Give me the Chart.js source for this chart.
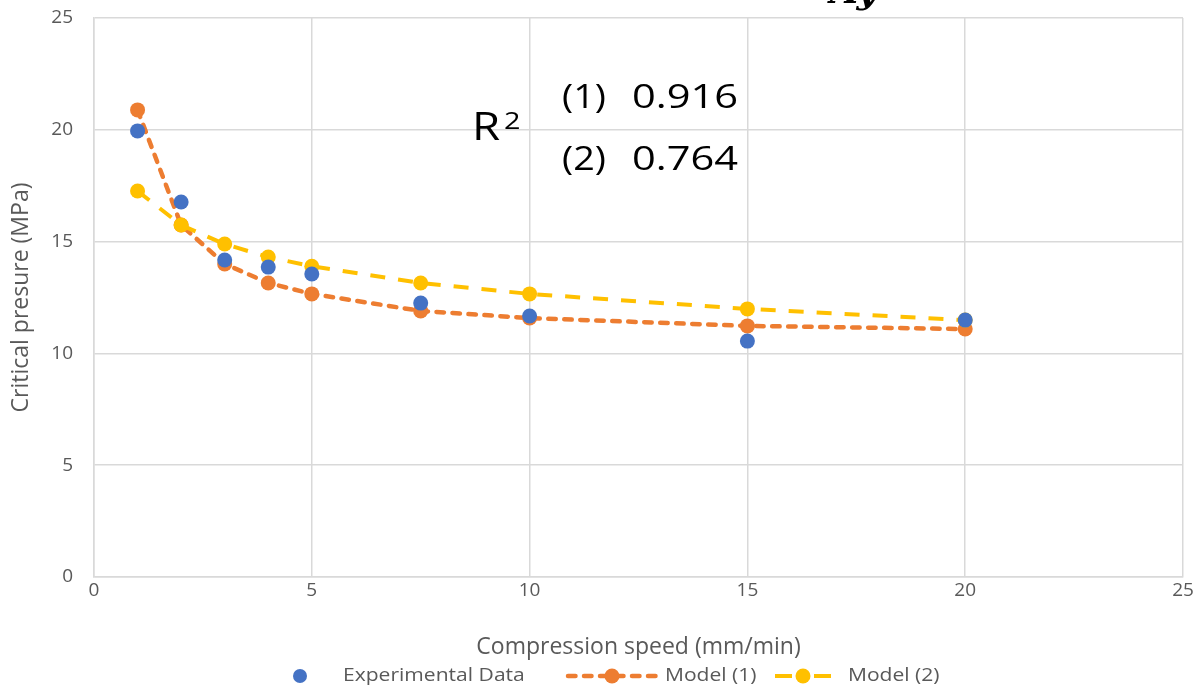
<!DOCTYPE html>
<html>
<head>
<meta charset="utf-8">
<script src="https://cdn.jsdelivr.net/npm/chart.js@4/dist/chart.umd.min.js"></script>
<style>
  html, body { margin: 0; padding: 0; background: #ffffff; }
  #wrap { width: 1194px; height: 688px; position: relative; }
</style>
</head>
<body>
<div id="wrap"><canvas id="c" width="1194" height="688"></canvas></div>
<script>
// ---- data ----
const speeds = [1, 2, 3, 4, 5, 7.5, 10, 15, 20];
const experimental = [19.95, 16.77, 14.18, 13.86, 13.55, 12.25, 11.67, 10.55, 11.49];
const model1 = [20.89, 15.74, 14.0, 13.15, 12.66, 11.9, 11.58, 11.23, 11.09];
const model2 = [17.26, 15.74, 14.89, 14.31, 13.9, 13.15, 12.66, 11.99, 11.49];
const xTicks = [0, 5, 10, 15, 20, 25];
const yTicks = [0, 5, 10, 15, 20, 25];
const seriesNames = ['Experimental Data', 'Model (1)', 'Model (2)'];
const r2Labels = ['(1)', '(2)'];
const r2Values = ['0.916', '0.764'];

const BLUE = '#4472C4', ORANGE = '#ED7D31', YELLOW = '#FFC000';
const TXT = '#595959';
const GRID = '#d9d9d9';
const FONT = "'Open Sans', 'Liberation Sans', sans-serif";

const pts = (ys) => speeds.map((x, i) => ({ x: x, y: ys[i] }));

function stretchedText(ctx, text, x, y, sx) {
  ctx.save();
  ctx.translate(x, y);
  ctx.scale(sx, 1);
  ctx.fillText(text, 0, 0);
  ctx.restore();
}

const annotPlugin = {
  id: 'annot',
  afterDraw(chart) {
    const ctx = chart.ctx;
    ctx.save();
    // partial formula text at top (clipped by canvas edge)
    ctx.fillStyle = '#000';
    ctx.font = "bold italic 36px 'DejaVu Serif', serif";
    ctx.textBaseline = 'alphabetic';
    ctx.fillText('Ay', 830, 3);

    ctx.fillStyle = '#000';
    ctx.font = "38px " + FONT;
    stretchedText(ctx, 'R', 472, 140, 1.2);
    ctx.font = "24px " + FONT;
    stretchedText(ctx, '2', 504, 129, 1.2);
    ctx.font = "32px " + FONT;
    stretchedText(ctx, r2Labels[0], 562, 108, 1.18);
    stretchedText(ctx, r2Values[0], 632, 108, 1.3);
    stretchedText(ctx, r2Labels[1], 562, 170, 1.18);
    stretchedText(ctx, r2Values[1], 632, 170, 1.3);

    // legend
    const ly = 676;
    const sx = 1.17;
    ctx.font = "18px " + FONT;
    ctx.textBaseline = 'middle';
    // experimental
    ctx.beginPath(); ctx.fillStyle = BLUE; ctx.arc(300, ly, 7, 0, Math.PI * 2); ctx.fill();
    ctx.fillStyle = TXT; stretchedText(ctx, seriesNames[0], 343, ly, sx);
    // model 1
    ctx.strokeStyle = ORANGE; ctx.lineWidth = 4.5; ctx.lineCap = 'round';
    ctx.setLineDash([7.5, 8.5]);
    ctx.beginPath(); ctx.moveTo(568, ly); ctx.lineTo(659, ly); ctx.stroke();
    ctx.setLineDash([]);
    ctx.beginPath(); ctx.fillStyle = ORANGE; ctx.arc(612, ly, 7.5, 0, Math.PI * 2); ctx.fill();
    ctx.fillStyle = TXT; stretchedText(ctx, seriesNames[1], 665, ly, sx);
    // model 2
    ctx.strokeStyle = YELLOW; ctx.lineWidth = 4; ctx.lineCap = 'butt';
    ctx.beginPath(); ctx.moveTo(775, ly); ctx.lineTo(792, ly); ctx.moveTo(814, ly); ctx.lineTo(831, ly); ctx.stroke();
    ctx.beginPath(); ctx.fillStyle = YELLOW; ctx.arc(803, ly, 7.5, 0, Math.PI * 2); ctx.fill();
    ctx.fillStyle = TXT; stretchedText(ctx, seriesNames[2], 848, ly, sx);
    ctx.restore();
  }
};

new Chart(document.getElementById('c'), {
  type: 'scatter',
  data: {
    datasets: [
      {
        label: seriesNames[0], data: pts(experimental), order: 0,
        showLine: false, pointRadius: 7.5, pointHoverRadius: 7.5,
        backgroundColor: BLUE, borderColor: BLUE, borderWidth: 0
      },
      {
        label: seriesNames[2], data: pts(model2), order: 1,
        showLine: true, borderColor: YELLOW, borderWidth: 4, borderDash: [15, 13],
        borderCapStyle: 'butt', pointRadius: 7.5, pointBackgroundColor: YELLOW,
        pointBorderWidth: 0, backgroundColor: YELLOW, tension: 0
      },
      {
        label: seriesNames[1], data: pts(model1), order: 2,
        showLine: true, borderColor: ORANGE, borderWidth: 4.5, borderDash: [7.5, 8.5],
        borderCapStyle: 'round', pointRadius: 7.5, pointBackgroundColor: ORANGE,
        pointBorderWidth: 0, backgroundColor: ORANGE, tension: 0
      }
    ]
  },
  options: {
    responsive: false,
    animation: false,
    layout: { padding: { left: 0, right: 11, top: 18, bottom: 0 } },
    plugins: { legend: { display: false }, tooltip: { enabled: false } },
    scales: {
      x: {
        type: 'linear', min: 0, max: 25,
        afterBuildTicks: (s) => { s.ticks = xTicks.map(v => ({ value: v })); },
        afterFit: (s) => { s.height = 111; s.paddingLeft = 0; s.paddingRight = 0; },
        grid: { color: GRID, lineWidth: 1.5, drawTicks: false },
        border: { color: GRID, width: 1.5 },
        ticks: { color: TXT, font: { family: FONT, size: 19 }, padding: 2, maxRotation: 0 },
        title: { display: true, text: 'Compression speed (mm/min)', color: TXT,
                 font: { family: FONT, size: 23 }, padding: { top: 0, bottom: 27 } }
      },
      y: {
        type: 'linear', min: 0, max: 25,
        afterBuildTicks: (s) => { s.ticks = yTicks.map(v => ({ value: v })); },
        afterFit: (s) => { s.width = 94; s.paddingTop = 0; s.paddingBottom = 0; },
        grid: { color: GRID, lineWidth: 1.5, drawTicks: false },
        border: { color: GRID, width: 1.5 },
        ticks: { color: TXT, font: { family: FONT, size: 19 }, padding: 21 },
        title: { display: true, text: 'Critical presure (MPa)', color: TXT,
                 font: { family: FONT, size: 23 }, padding: { top: 8, bottom: 0 } }
      }
    }
  },
  plugins: [annotPlugin]
});
</script>
</body>
</html>
